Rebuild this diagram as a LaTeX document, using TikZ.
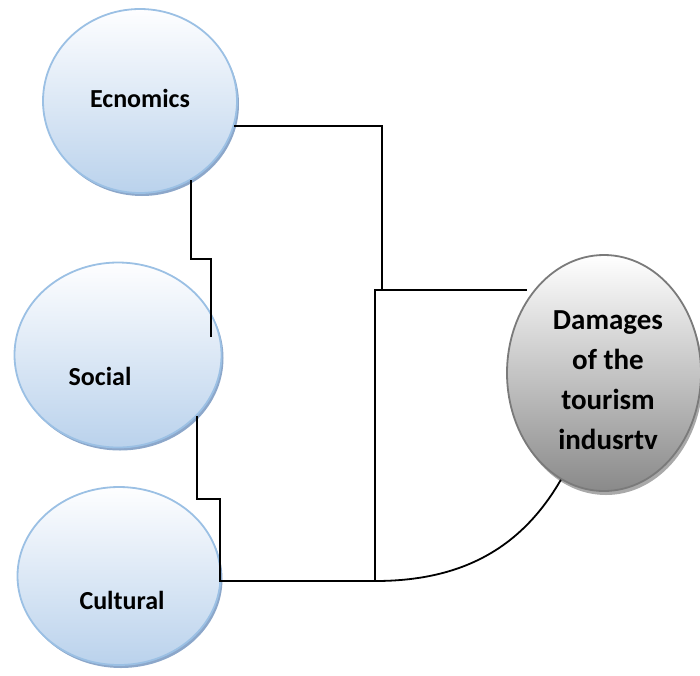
\documentclass[tikz,border=0pt]{standalone}
\usepackage{fontspec}
\setmainfont{Carlito}
\usetikzlibrary{positioning, calc, shapes.geometric, shadows}
\definecolor{BubbleTop}{HTML}{FEFEFF}
\definecolor{BubbleBottom}{HTML}{BAD2EC}
\definecolor{BubbleLine}{HTML}{9BC0E4}
\definecolor{BubbleShadow}{HTML}{8CA7CA}
\definecolor{GreyBottom}{HTML}{8A8A8A}
\definecolor{GreyLine}{HTML}{7A7A7A}
\definecolor{GreyShadow}{HTML}{A9A9A9}
\tikzstyle{Link} = [
%plain connector line
line width = 1.8pt, black
]

\begin{document}
\begin{tikzpicture}[x=1pt, y=-1pt,
			factor/.style = {ellipse, draw = BubbleLine, line width = 1.8pt, inner sep = 0pt, top color = BubbleTop, bottom color = BubbleBottom, drop shadow = {fill = BubbleShadow, opacity = 1, shadow xshift = 2pt, shadow yshift = -3pt}},
			outcome/.style = {ellipse, draw = GreyLine, line width = 1.8pt, inner sep = 0pt, top color = white, bottom color = GreyBottom, drop shadow = {fill = GreyShadow, opacity = 1, shadow xshift = 2pt, shadow yshift = -4pt}},
			tag/.style = {font = \fontsize{26}{40}\selectfont\bfseries, align = center},
			bigtag/.style = {font = \fontsize{29}{40}\selectfont\bfseries, align = center},
		]
		\useasboundingbox (0,0) rectangle (700,675);

		\node[factor, minimum width = 194pt, minimum height = 184pt, label = {[tag, yshift = 3pt]center:Ecnomics}] (eco) at (140,101) {};
		\node[factor, minimum width = 207pt, minimum height = 185pt, label = {[tag, xshift = -18pt, yshift = -21pt]center:Social}] (soc) at (118,355) {};
		\node[factor, minimum width = 203pt, minimum height = 178pt, label = {[tag, xshift = 3pt, yshift = -24pt]center:Cultural}] (cult) at (119,576) {};
		\node[outcome, minimum width = 194pt, minimum height = 236pt, label = {[bigtag, xshift = 4pt, yshift = -7pt]center:Damages\\of the\\tourism\\indusrtv}] (dam) at (604,373) {};

		\coordinate (ecoTurn) at (382,289);
		\coordinate (hubTop) at (375,290);
		\coordinate (damEnd) at (527,290);
		\coordinate (hubBot) at (375,581);
		\coordinate (ecoStep) at (211,259);
		\coordinate (socEnd) at (211,337);
		\coordinate (socStep) at (220,499);

		\draw[Link](eco.-15) -| (ecoTurn);
		\draw[Link](damEnd) -- (hubTop) -- (hubBot);
		\draw[Link](eco.-57) |- (ecoStep) -- (socEnd);
		\draw[Link](soc.-38) |- (socStep) |- (hubBot);
		\draw[Link](hubBot) to[out = 0, in = 240] (dam.248);
	\end{tikzpicture}
\end{document}
